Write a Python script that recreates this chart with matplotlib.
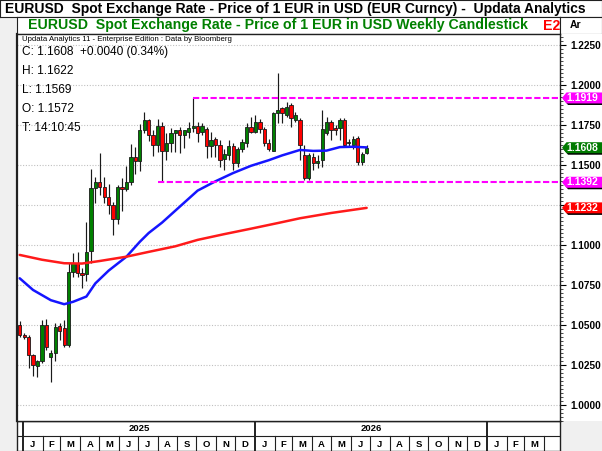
import numpy as np
import pandas as pd
import matplotlib
matplotlib.use("Agg")
import matplotlib.pyplot as plt
from matplotlib.patches import Rectangle, Polygon

plt.rcParams['font.family'] = ['Liberation Sans', 'DejaVu Sans']

W, H = 602, 451

# ---------------- data ----------------
week_start = "2024-12-16"
opens = [1.0500, 1.0437, 1.0427, 1.0310, 1.0245, 1.0275, 1.0500, 1.0300, 1.0325, 1.0496,
         1.0479, 1.0375, 1.0833, 1.0886, 1.0823, 1.0820, 1.0962, 1.1357, 1.1395, 1.1364,
         1.1298, 1.1251, 1.1163, 1.1364, 1.1348, 1.1396, 1.1550, 1.1523, 1.1718, 1.1779,
         1.1690, 1.1627, 1.1742, 1.1587, 1.1640, 1.1700, 1.1718, 1.1685, 1.1708, 1.1731,
         1.1744, 1.1708, 1.1725, 1.1619, 1.1660, 1.1625, 1.1535, 1.1563, 1.1619, 1.1512,
         1.1598, 1.1640, 1.1738, 1.1706, 1.1769, 1.1723, 1.1635, 1.1590, 1.1828, 1.1854,
         1.1813, 1.1875, 1.1781, 1.1781, 1.1563, 1.1417, 1.1552, 1.1515, 1.1531, 1.1698,
         1.1771, 1.1729, 1.1729, 1.1781, 1.1635, 1.1625, 1.1667, 1.1520, 1.1572]
highs = [1.0528, 1.0452, 1.0440, 1.0318, 1.0282, 1.0530, 1.0536, 1.0345, 1.0511, 1.0514,
         1.0531, 1.0888, 1.0947, 1.0955, 1.0858, 1.1146, 1.1474, 1.1424, 1.1573, 1.1425,
         1.1380, 1.1266, 1.1375, 1.1420, 1.1495, 1.1631, 1.1615, 1.1754, 1.1830, 1.1790,
         1.1720, 1.1789, 1.1770, 1.1700, 1.1730, 1.1720, 1.1740, 1.1720, 1.1771, 1.1919,
         1.1771, 1.1760, 1.1738, 1.1708, 1.1677, 1.1656, 1.1600, 1.1656, 1.1640, 1.1610,
         1.1660, 1.1760, 1.1800, 1.1810, 1.1790, 1.1740, 1.1660, 1.1833, 1.2077, 1.1860,
         1.1896, 1.1885, 1.1833, 1.1792, 1.1625, 1.1573, 1.1573, 1.1560, 1.1844, 1.1802,
         1.1781, 1.1750, 1.1792, 1.1792, 1.1660, 1.1680, 1.1680, 1.1580, 1.1622]
lows = [1.0425, 1.0410, 1.0231, 1.0183, 1.0177, 1.0265, 1.0344, 1.0146, 1.0278, 1.0406,
        1.0364, 1.0362, 1.0802, 1.0797, 1.0731, 1.0778, 1.0885, 1.1265, 1.1315, 1.1265,
        1.1193, 1.1065, 1.1130, 1.1210, 1.1340, 1.1373, 1.1445, 1.1460, 1.1700, 1.1650,
        1.1556, 1.1580, 1.1392, 1.1530, 1.1580, 1.1583, 1.1574, 1.1608, 1.1667, 1.1708,
        1.1646, 1.1688, 1.1542, 1.1552, 1.1552, 1.1490, 1.1469, 1.1531, 1.1469, 1.1490,
        1.1580, 1.1615, 1.1700, 1.1700, 1.1700, 1.1620, 1.1585, 1.1585, 1.1763, 1.1763,
        1.1802, 1.1740, 1.1771, 1.1531, 1.1406, 1.1406, 1.1469, 1.1480, 1.1490, 1.1688,
        1.1656, 1.1690, 1.1656, 1.1619, 1.1620, 1.1600, 1.1500, 1.1500, 1.1569]
closes = [1.0437, 1.0427, 1.0310, 1.0250, 1.0275, 1.0500, 1.0360, 1.0328, 1.0490, 1.0464,
          1.0375, 1.0833, 1.0886, 1.0823, 1.0815, 1.0955, 1.1357, 1.1395, 1.1364, 1.1298,
          1.1251, 1.1163, 1.1364, 1.1348, 1.1396, 1.1550, 1.1523, 1.1718, 1.1779, 1.1690,
          1.1627, 1.1742, 1.1587, 1.1640, 1.1700, 1.1718, 1.1685, 1.1718, 1.1729, 1.1746,
          1.1702, 1.1744, 1.1619, 1.1656, 1.1625, 1.1531, 1.1569, 1.1619, 1.1510, 1.1597,
          1.1646, 1.1736, 1.1706, 1.1769, 1.1725, 1.1640, 1.1598, 1.1827, 1.1846, 1.1823,
          1.1865, 1.1792, 1.1813, 1.1625, 1.1417, 1.1563, 1.1510, 1.1528, 1.1722, 1.1771,
          1.1719, 1.1719, 1.1781, 1.1625, 1.1645, 1.1660, 1.1520, 1.1568, 1.1608]

# moving averages (week index -> value)
blue_idx = [0, 3, 7, 10, 12, 15, 17, 20, 24, 27, 29, 32, 36, 40, 44, 48, 52, 56, 59, 63, 66, 69, 72, 75, 78]
blue_val = [1.0792, 1.0719, 1.0655, 1.0630, 1.0645, 1.0678, 1.0760, 1.0840, 1.0927, 1.1020,
            1.1075, 1.1140, 1.1240, 1.1340, 1.1398, 1.1450, 1.1495, 1.1530, 1.1560, 1.1594,
            1.1588, 1.1590, 1.1612, 1.1614, 1.1610]
red_idx = [0, 5, 10, 14, 18, 24, 29, 35, 40, 46, 52, 58, 63, 70, 78]
red_val = [1.0938, 1.0908, 1.0886, 1.0884, 1.0900, 1.0927, 1.0957, 1.0992, 1.1032, 1.1068,
           1.1102, 1.1137, 1.1167, 1.1200, 1.1232]

resistance = 1.1919
support = 1.1392

y_ticks = [1.0000, 1.0250, 1.0500, 1.0750, 1.1000, 1.1250, 1.1500, 1.1750, 1.2000, 1.2250]
month_letters = ["J", "F", "M", "A", "M", "J", "J", "A", "S", "O", "N", "D"]

title_top = "EURUSD  Spot Exchange Rate - Price of 1 EUR in USD (EUR Curncy) -  Updata Analytics"
title_green = "EURUSD  Spot Exchange Rate - Price of 1 EUR in USD Weekly Candlestick"
info_lines = ["C: 1.1608  +0.0040 (0.34%)", "H: 1.1622", "L: 1.1569", "O: 1.1572", "T: 14:10:45"]

# ---------------- layout helpers ----------------
PX_PER_WEEK = 4.448
X0_PX = 19.7
CAL_OFFSET = 0.742  # week-index position of 1 Jan 2025 on the chart's date strip


def fbox(x0, y0, x1, y1):
    return [x0 / W, 1 - y1 / H, (x1 - x0) / W, (y1 - y0) / H]


def px2idx(x):
    return (x - X0_PX) / PX_PER_WEEK


PLOT_L, PLOT_R, PLOT_T, PLOT_B = 17, 560, 34, 421
Y_TOP = 1.0 + (405 - PLOT_T) / 1600.0
Y_BOT = 1.0 + (405 - PLOT_B) / 1600.0
XLIM = (px2idx(PLOT_L), px2idx(PLOT_R))
px_data = (Y_TOP - Y_BOT) / (PLOT_B - PLOT_T)

tags = [(resistance, "#ff00ff"), (closes[-1], "#007a00"), (support, "#ff00ff"), (red_val[-1], "#ff0000")]

fig = plt.figure(figsize=(W / 100, H / 100), dpi=100, facecolor="#f0f0f0")

# top title bar
axt = fig.add_axes(fbox(0, 0, W, 17))
axt.set_facecolor("white")
axt.set_xticks([]); axt.set_yticks([])
for s in axt.spines.values():
    s.set_linewidth(0.8); s.set_color("#202020")
axt.text(5 / W, 0.47, title_top, transform=axt.transAxes, ha="left", va="center",
         fontsize=10, fontweight="bold", color="black")

# green title row
axg = fig.add_axes(fbox(PLOT_L, 17, PLOT_R, PLOT_T))
axg.set_facecolor("white")
axg.set_xticks([]); axg.set_yticks([])
for s in axg.spines.values():
    s.set_linewidth(0.8); s.set_color("#202020")
axg.text((28 - PLOT_L) / (PLOT_R - PLOT_L), 0.5, title_green, transform=axg.transAxes,
         ha="left", va="center", fontsize=10.2, fontweight="bold", color="#008000")
axg.text((543 - PLOT_L) / (PLOT_R - PLOT_L), 0.5, "E2", transform=axg.transAxes,
         ha="left", va="center", fontsize=10.2, fontweight="bold", color="#ff0000", clip_on=True)

axh = fig.add_axes(fbox(PLOT_R, 17, W, PLOT_T))
axh.set_facecolor("white")
axh.set_xticks([]); axh.set_yticks([])
for s in axh.spines.values():
    s.set_linewidth(0.8); s.set_color("#202020")
axh.text(0.22, 0.5, "Ar", transform=axh.transAxes, ha="left", va="center",
         fontsize=7.5, fontweight="bold", color="black")

# right axis panel background
axr = fig.add_axes(fbox(PLOT_R, PLOT_T, W, PLOT_B), zorder=0)
axr.set_facecolor("white")
axr.set_xticks([]); axr.set_yticks([])
for s in axr.spines.values():
    s.set_visible(False)

# main axes
ax = fig.add_axes(fbox(PLOT_L, PLOT_T, PLOT_R, PLOT_B), zorder=1)
ax.set_facecolor("white")
ax.set_xlim(*XLIM)
ax.set_ylim(Y_BOT, Y_TOP)
ax.set_xticks([])
ax.yaxis.tick_right()
ax.set_yticks(y_ticks)
# a tick label that sits under a price tag is hidden by the tag, as in the reference
tag_vals = np.array([t[0] for t in tags])
labels = ["" if np.min(np.abs(tag_vals - v)) < 9 * px_data else f"{v:.4f}" for v in y_ticks]
ax.set_yticklabels(labels, fontsize=7.2, fontweight="bold")
ax.set_yticks(np.arange(0.99, 1.2325, 0.0025), minor=True)
ax.tick_params(axis="y", which="major", length=4, width=0.8, pad=3.2, direction="out")
ax.tick_params(axis="y", which="minor", length=2, width=0.5, direction="out")
for s in ax.spines.values():
    s.set_linewidth(1.0); s.set_color("#202020")
ax.spines["left"].set_linewidth(1.6)
for v in y_ticks:
    ax.axhline(v, color="#c0c0c0", lw=0.8, ls=(0, (1, 1.5)), zorder=0.5)

# candles
o = np.array(opens); hgh = np.array(highs); low = np.array(lows); c = np.array(closes)
idx = np.arange(len(o))
ax.vlines(idx, low, hgh, color="#1a1a1a", lw=0.85, zorder=2)
bw = 0.74
for i in idx:
    up = c[i] >= o[i]
    bottom = min(o[i], c[i])
    height = max(abs(c[i] - o[i]), 0.0004)
    ax.add_patch(Rectangle((i - bw / 2, bottom), bw, height,
                           facecolor="#008000" if up else "#ff0000",
                           edgecolor="#1a1a1a", lw=0.6, zorder=3))

# moving averages
ax.plot(blue_idx, blue_val, color="#1515ff", lw=1.8, zorder=4, solid_capstyle="round")
ax.plot(red_idx, red_val, color="#ff1a1a", lw=1.8, zorder=4, solid_capstyle="round")

# resistance / support
i_res = int(np.where(np.isclose(hgh, resistance))[0][0])
i_sup = int(np.where(np.isclose(low, support))[0][0])
dash = (0, (3, 1.2))
ax.plot([i_res - 0.1, XLIM[1]], [resistance, resistance], color="#ff00ff", lw=1.5, ls=dash, zorder=5)
ax.plot([i_sup - 0.8, XLIM[1]], [support, support], color="#ff00ff", lw=1.5, ls=dash, zorder=5)

# info text
ax.text((22 - PLOT_L) / (PLOT_R - PLOT_L), 1 - (39.5 - PLOT_T) / (PLOT_B - PLOT_T),
        "Updata Analytics 11 - Enterprise Edition : Data by Bloomberg",
        transform=ax.transAxes, ha="left", va="center", fontsize=5.6, color="black")
for k, line in enumerate(info_lines):
    ypx = 51.5 + 19.2 * k
    ax.text((22 - PLOT_L) / (PLOT_R - PLOT_L), 1 - (ypx - PLOT_T) / (PLOT_B - PLOT_T), line,
            transform=ax.transAxes, ha="left", va="center", fontsize=8.6, color="black")

# price tags (overlay panel on top of the tick labels)
axtag = fig.add_axes(fbox(PLOT_R, PLOT_T, W, PLOT_B), zorder=3)
axtag.set_facecolor("none")
axtag.set_xlim(0, W - PLOT_R)
axtag.set_ylim(Y_BOT, Y_TOP)
axtag.set_xticks([]); axtag.set_yticks([])
for s in axtag.spines.values():
    s.set_visible(False)
hh = 5.5 * px_data
for val, col in tags:
    pts = [(2, val), (6.5, val + hh), (44, val + hh), (44, val - hh), (6.5, val - hh)]
    sh = [(x + 1.5, y - 1.5 * px_data) for x, y in pts]
    axtag.add_patch(Polygon(sh, closed=True, facecolor="black", edgecolor="none", zorder=2, clip_on=False))
    axtag.add_patch(Polygon(pts, closed=True, facecolor=col, edgecolor="none", zorder=3, clip_on=False))
    axtag.text(6.5, val, f"{val:.4f}", ha="left", va="center", fontsize=7.5,
               fontweight="bold", color="white", zorder=4, clip_on=True)

# bottom date strip
axb = fig.add_axes(fbox(PLOT_L, PLOT_B, PLOT_R, H))
axb.set_facecolor("white")
axb.set_xlim(*XLIM)
axb.set_ylim(0, 2)
axb.set_xticks([]); axb.set_yticks([])
for s in axb.spines.values():
    s.set_linewidth(1.0); s.set_color("#202020")
axb.axhline(1.0, color="#202020", lw=0.8)

base = pd.Timestamp("2025-01-01")
months = pd.date_range("2025-01-01", "2027-06-01", freq="MS")
bounds = [CAL_OFFSET + (m - base).days / 7.0 for m in months]
for k in range(len(months) - 1):
    a, b = bounds[k], bounds[k + 1]
    if a >= XLIM[1]:
        break
    is_year = months[k].month == 1
    axb.plot([a, a], [0, 1], color="#202020", lw=1.4 if is_year else 0.8)
    if b <= XLIM[1]:
        axb.text((a + b) / 2, 0.45, month_letters[months[k].month - 1], ha="center", va="center",
                 fontsize=6.8, fontweight="bold")
years = pd.date_range("2025-01-01", "2028-01-01", freq="YS")
ybounds = [CAL_OFFSET + (y - base).days / 7.0 for y in years]
for k in range(len(years) - 1):
    a, b = ybounds[k], ybounds[k + 1]
    if a >= XLIM[1]:
        break
    axb.plot([a, a], [1, 2], color="#202020", lw=1.4)
    if b <= XLIM[1]:
        axb.text((a + b) / 2, 1.5, str(years[k].year), ha="center", va="center",
                 fontsize=6.8, fontweight="bold")

fig.savefig("out.png", dpi=100, facecolor=fig.get_facecolor())
